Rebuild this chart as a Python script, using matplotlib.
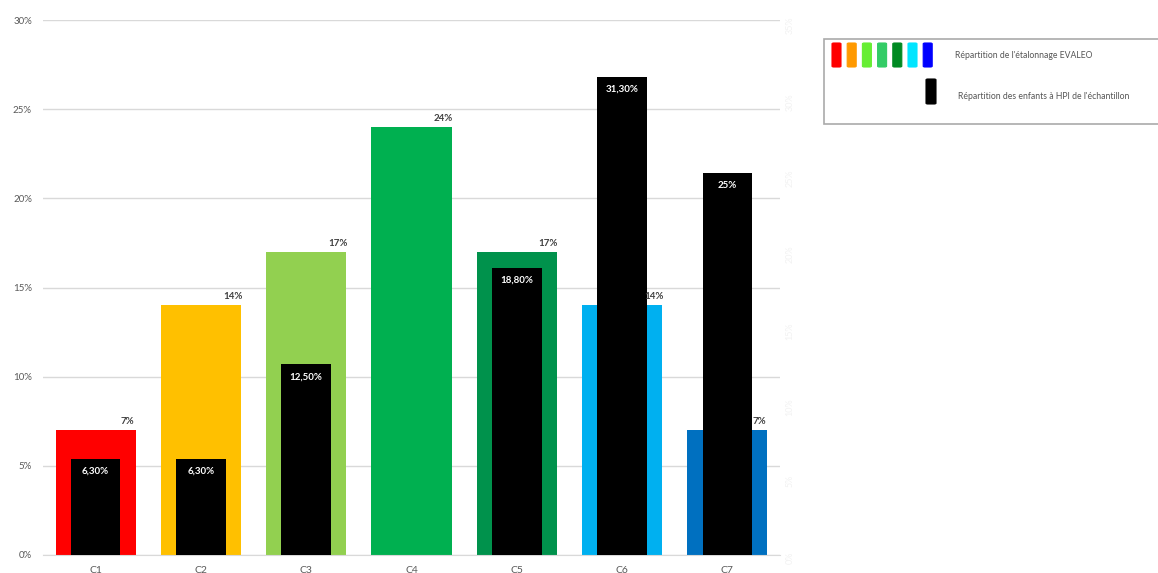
import matplotlib
matplotlib.use("Agg")
import matplotlib.pyplot as plt
from matplotlib.patches import Rectangle, FancyBboxPatch
from matplotlib.ticker import FuncFormatter, MultipleLocator

plt.rcParams["font.family"] = ["Lato", "DejaVu Sans"]

categories = ["C1", "C2", "C3", "C4", "C5", "C6", "C7"]
evaleo = [7, 14, 17, 24, 17, 14, 7]
evaleo_colors = ["#FF0000", "#FFC000", "#92D050", "#00B050", "#00924C", "#00B0F0", "#0070C0"]
hpi = [6.30, 6.30, 12.50, 0, 18.80, 31.30, 25]
hpi_labels = ["6,30%", "6,30%", "12,50%", "", "18,80%", "31,30%", "25%"]

legend_colors = ["#FF0000", "#FF9900", "#66EE33", "#33CC66", "#008A22", "#00E5FF", "#0000FF"]
legend_text = ["Répartition de l'étalonnage EVALEO",
               "Répartition des enfants à HPI de l'échantillon"]

W, H = 1158, 573
fig = plt.figure(figsize=(W / 100, H / 100), dpi=100)
fig.patch.set_facecolor("white")

left, right, bottom, top = 43 / W, 780 / W, (H - 555) / H, (H - 20) / H
ax = fig.add_axes([left, bottom, right - left, top - bottom])
ax2 = ax.twinx()

x = list(range(len(categories)))
PRIMARY_MAX, SECONDARY_MAX = 30, 35

# primary axis: EVALEO calibration
ax.bar(x, evaleo, width=0.76, color=evaleo_colors, zorder=2)
ax.set_ylim(0, PRIMARY_MAX)
ax.set_xlim(-0.5, 6.5)
ax.yaxis.set_major_locator(MultipleLocator(5))
ax.yaxis.set_major_formatter(FuncFormatter(lambda v, p: f"{int(v)}%"))
ax.grid(axis="y", color="#d9d9d9", linewidth=1, zorder=0)
ax.set_axisbelow(True)
for s in ["top", "right", "left"]:
    ax.spines[s].set_visible(False)
ax.spines["bottom"].set_color("#d9d9d9")
ax.tick_params(axis="y", length=0, labelsize=7, labelcolor="#595959", pad=8)
ax.set_xticks(x)
ax.set_xticklabels(categories)
ax.tick_params(axis="x", length=0, labelsize=7.5, labelcolor="#595959", pad=8)

# secondary axis: HPI sample
ax2.bar(x, hpi, width=0.47, color="black", zorder=3)
ax2.set_ylim(0, SECONDARY_MAX)
ax2.yaxis.set_major_locator(MultipleLocator(5))
ax2.yaxis.set_major_formatter(FuncFormatter(lambda v, p: f"{int(v)}%"))
for s in ["top", "right", "left", "bottom"]:
    ax2.spines[s].set_visible(False)
ax2.tick_params(axis="y", length=0, labelsize=6.5, labelcolor="#f2f2f2", pad=4,
                labelrotation=90)

# EVALEO value labels, drawn above every bar
for xi, v in zip(x, evaleo):
    ax2.annotate(f"{v}%", (xi + 0.3, v * SECONDARY_MAX / PRIMARY_MAX), xytext=(0, 3),
                 textcoords="offset points", ha="center", va="bottom", fontsize=7,
                 fontweight="bold", color="#404040", zorder=6)

for xi, v, lab in zip(x, hpi, hpi_labels):
    if lab:
        ax2.annotate(lab, (xi, v), xytext=(0, -6), textcoords="offset points",
                     ha="center", va="top", fontsize=7, fontweight="bold",
                     color="white", zorder=6)

# legend box
def px(xp, yp):
    return xp / W, 1 - yp / H

bx0, by0 = px(824, 124)
bx1, by1 = px(1160, 39)
fig.patches.append(Rectangle((bx0, by0), bx1 - bx0, by1 - by0, transform=fig.transFigure,
                             facecolor="white", edgecolor="#aaaaaa", linewidth=1.2))
for i, c in enumerate(legend_colors):
    x0, y0 = px(832 + i * 15.2, 67)
    fig.patches.append(FancyBboxPatch((x0, y0), 9 / W, 24 / H, transform=fig.transFigure,
                                      boxstyle="round,pad=0,rounding_size=0.0015",
                                      facecolor=c, edgecolor=c, linewidth=0.8))
x0, y0 = px(926, 104)
fig.patches.append(FancyBboxPatch((x0, y0), 10 / W, 25 / H, transform=fig.transFigure,
                                  boxstyle="round,pad=0,rounding_size=0.0015",
                                  facecolor="black", edgecolor="black", linewidth=0.8))
tx, ty = px(955, 56)
fig.text(tx, ty, legend_text[0], fontsize=6.2, color="#555555", va="center", ha="left")
tx, ty = px(958, 97)
fig.text(tx, ty, legend_text[1], fontsize=6.2, color="#555555", va="center", ha="left")

fig.savefig("out.png", dpi=100)
